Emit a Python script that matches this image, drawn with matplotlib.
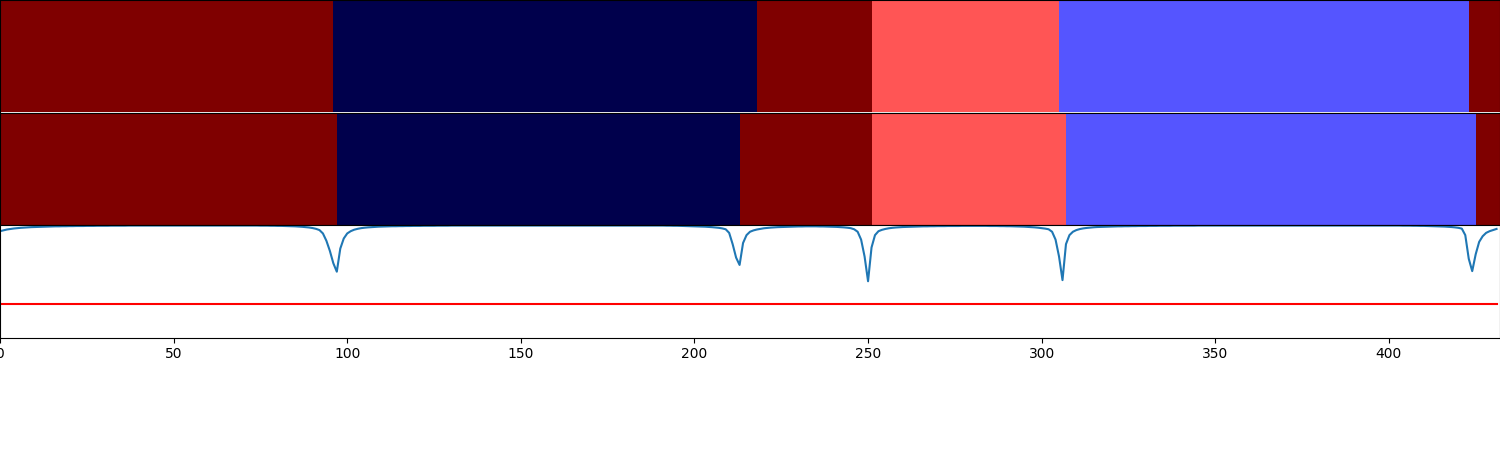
import numpy as np
import matplotlib
matplotlib.use("Agg")
import matplotlib.pyplot as plt

# Segment data: (class, length) for ground truth and prediction
gt_classes = [3, 0, 3, 2, 1, 3]
gt_lengths = [96, 122, 33, 54, 118, 9]
pred_classes = [3, 0, 3, 2, 1, 3]
pred_lengths = [97, 116, 38, 56, 118, 7]

# Per-frame confidence
confidence = [
    0.945, 0.953, 0.960, 0.965, 0.969, 0.972, 0.975, 0.977, 0.979, 0.981,
    0.982, 0.983, 0.984, 0.985, 0.986, 0.987, 0.988, 0.988, 0.989, 0.989,
    0.990, 0.990, 0.991, 0.991, 0.991, 0.992, 0.992, 0.992, 0.993, 0.993,
    0.993, 0.993, 0.994, 0.994, 0.994, 0.994, 0.994, 0.995, 0.995, 0.995,
    0.995, 0.995, 0.995, 0.995, 0.995, 0.995, 0.995, 0.995, 0.995, 0.995,
    0.995, 0.995, 0.995, 0.995, 0.995, 0.995, 0.995, 0.995, 0.995, 0.995,
    0.995, 0.995, 0.995, 0.995, 0.995, 0.995, 0.995, 0.995, 0.995, 0.995,
    0.995, 0.995, 0.995, 0.995, 0.995, 0.994, 0.994, 0.994, 0.993, 0.993,
    0.992, 0.992, 0.991, 0.990, 0.989, 0.988, 0.986, 0.984, 0.981, 0.978,
    0.973, 0.966, 0.955, 0.925, 0.860, 0.770, 0.660, 0.585, 0.790, 0.880,
    0.925, 0.945, 0.958, 0.966, 0.972, 0.976, 0.979, 0.981, 0.983, 0.985,
    0.986, 0.987, 0.988, 0.989, 0.989, 0.990, 0.990, 0.991, 0.991, 0.992,
    0.992, 0.992, 0.993, 0.993, 0.993, 0.993, 0.994, 0.994, 0.994, 0.994,
    0.995, 0.995, 0.995, 0.995, 0.995, 0.995, 0.995, 0.995, 0.995, 0.995,
    0.995, 0.995, 0.995, 0.995, 0.995, 0.995, 0.995, 0.995, 0.995, 0.995,
    0.995, 0.995, 0.995, 0.995, 0.995, 0.995, 0.995, 0.995, 0.995, 0.995,
    0.995, 0.995, 0.995, 0.995, 0.995, 0.995, 0.995, 0.995, 0.995, 0.995,
    0.995, 0.995, 0.995, 0.995, 0.995, 0.995, 0.995, 0.995, 0.995, 0.995,
    0.995, 0.995, 0.995, 0.995, 0.995, 0.995, 0.995, 0.995, 0.995, 0.995,
    0.995, 0.995, 0.994, 0.994, 0.993, 0.993, 0.992, 0.991, 0.990, 0.989,
    0.988, 0.987, 0.986, 0.985, 0.983, 0.981, 0.978, 0.975, 0.970, 0.962,
    0.930, 0.830, 0.710, 0.645, 0.840, 0.910, 0.940, 0.952, 0.960, 0.966,
    0.971, 0.974, 0.977, 0.979, 0.981, 0.982, 0.983, 0.984, 0.985, 0.986,
    0.987, 0.987, 0.988, 0.988, 0.988, 0.988, 0.987, 0.987, 0.986, 0.985,
    0.984, 0.983, 0.981, 0.979, 0.976, 0.972, 0.962, 0.940, 0.870, 0.720,
    0.500, 0.800, 0.910, 0.945, 0.957, 0.965, 0.971, 0.975, 0.978, 0.980,
    0.982, 0.983, 0.984, 0.985, 0.986, 0.987, 0.988, 0.988, 0.989, 0.989,
    0.990, 0.990, 0.990, 0.991, 0.991, 0.991, 0.991, 0.992, 0.992, 0.992,
    0.992, 0.992, 0.992, 0.992, 0.992, 0.991, 0.991, 0.991, 0.990, 0.990,
    0.989, 0.989, 0.988, 0.987, 0.986, 0.985, 0.983, 0.981, 0.979, 0.976,
    0.972, 0.968, 0.962, 0.940, 0.870, 0.720, 0.510, 0.830, 0.910, 0.940,
    0.955, 0.964, 0.970, 0.974, 0.977, 0.980, 0.982, 0.983, 0.984, 0.985,
    0.986, 0.987, 0.988, 0.988, 0.989, 0.989, 0.990, 0.990, 0.991, 0.991,
    0.991, 0.992, 0.992, 0.992, 0.993, 0.993, 0.993, 0.993, 0.994, 0.994,
    0.994, 0.994, 0.994, 0.994, 0.994, 0.995, 0.995, 0.995, 0.995, 0.995,
    0.995, 0.995, 0.995, 0.995, 0.995, 0.995, 0.995, 0.995, 0.995, 0.995,
    0.995, 0.995, 0.995, 0.995, 0.995, 0.995, 0.995, 0.995, 0.995, 0.995,
    0.995, 0.995, 0.995, 0.995, 0.995, 0.995, 0.995, 0.995, 0.995, 0.995,
    0.995, 0.995, 0.995, 0.995, 0.995, 0.995, 0.995, 0.995, 0.995, 0.995,
    0.995, 0.995, 0.995, 0.995, 0.995, 0.995, 0.995, 0.995, 0.995, 0.995,
    0.995, 0.995, 0.995, 0.995, 0.994, 0.994, 0.994, 0.993, 0.993, 0.992,
    0.992, 0.991, 0.990, 0.989, 0.988, 0.987, 0.986, 0.984, 0.982, 0.979,
    0.975, 0.968, 0.910, 0.700, 0.590, 0.740, 0.850, 0.900, 0.930, 0.945,
    0.955, 0.965,
]
threshold = 0.3

gt = np.repeat(gt_classes, gt_lengths)
pred = np.repeat(pred_classes, pred_lengths)
labels = [gt, pred]

num_pics = len(labels) + 1
color_map = plt.get_cmap('seismic')
barprops = dict(aspect='auto', cmap=color_map, interpolation='nearest', vmin=0)
fig = plt.figure(figsize=(15, num_pics * 1.5), dpi=100)

interval = 1 / (num_pics + 1)
for i, label in enumerate(labels):
    i = i + 1
    ax1 = fig.add_axes([0, 1 - i * interval, 1, interval])
    ax1.imshow([label], **barprops)

ax4 = fig.add_axes([0, interval, 1, interval])
ax4.set_xlim(0, len(confidence))
ax4.set_ylim(0, 1)
ax4.plot(range(len(confidence)), confidence)
ax4.plot(range(len(confidence)), [threshold] * len(confidence), color='red', label='0.5')

fig.savefig('out.png', dpi=100)
